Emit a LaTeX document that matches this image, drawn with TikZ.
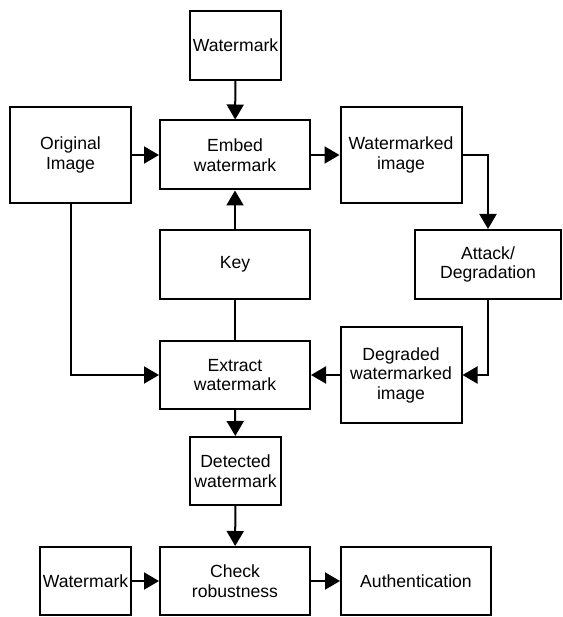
\documentclass[tikz,border=0pt]{standalone}
\usepackage{fontspec}
\setmainfont{Liberation Sans}
\usetikzlibrary{arrows.meta}
\tikzstyle{flow}=[x=1pt, y=-1pt, line width=2pt, font=\fontsize{17.6}{19.5}\selectfont]
\tikzstyle{blk}=[rectangle, draw, inner sep=0pt, align=center, minimum width=150pt, minimum height=69pt]
\tikzstyle{small}=[blk, minimum width=91pt]
\tikzstyle{tall}=[blk, minimum width=121pt, minimum height=96pt]
\tikzstyle{edge}=[-{Triangle[length=15pt,width=17pt]}]

\begin{document}
\begin{tikzpicture}[flow]
	\useasboundingbox (0,0) rectangle (562,617);
	\draw (235.5,45.5) node[small] (wm1) {Watermark};
	\draw (70.5,155) node[tall] (orig) {Original\\Image};
	\draw (235,155) node[blk] (embed) {Embed\\watermark};
	\draw (401,155) node[tall] (wmimg) {Watermarked\\image};
	\draw (235,264.5) node[blk] (key) {Key};
	\draw (488,264.5) node[blk, minimum width=146pt] (attack) {Attack/\\Degradation};
	\draw (235,375) node[blk, minimum height=68pt] (extract) {Extract\\watermark};
	\draw (401,375) node[tall] (degr) {Degraded\\watermarked\\image};
	\draw (235.5,471) node[small, minimum height=68pt] (detect) {Detected\\watermark};
	\draw (85.5,581) node[small, minimum height=68pt] (wm2) {Watermark};
	\draw (235,581) node[blk, minimum height=68pt] (check) {Check\\robustness};
	\draw (416,581) node[blk, minimum height=68pt] (auth) {Authentication};
	\draw[edge] (wm1) -- (embed);
	\draw[edge] (orig) -- (embed);
	\draw[edge] (key) -- (embed);
	\draw[edge] (embed) -- (wmimg);
	\draw[edge] (wmimg) -| (attack);
	\draw[edge] (attack) |- (degr);
	\draw[edge] (degr) -- (extract);
	\draw[edge] (orig) |- (extract);
	\draw (key) -- (extract);
	\draw[edge] (extract) -- (detect);
	\draw[edge] (detect) -- (check);
	\draw[edge] (wm2) -- (check);
	\draw[edge] (check) -- (auth);
\end{tikzpicture}
\end{document}
